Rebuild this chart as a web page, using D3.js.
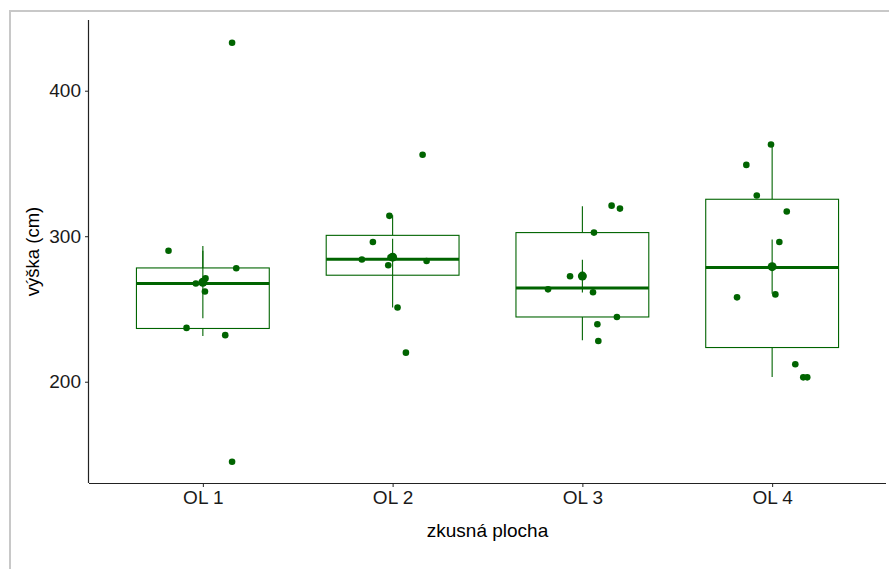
<!DOCTYPE html>
<html>
<head>
<meta charset="utf-8">
<script src="https://cdn.jsdelivr.net/npm/d3@7"></script>
<style>
  html, body { margin: 0; padding: 0; background: #fff; }
  svg { display: block; }
  text { font-family: "Liberation Sans", Arial, sans-serif; }
</style>
</head>
<body>
<svg id="chart" width="889" height="569"></svg>
<script>
// Plot categories
const categories = ["OL 1", "OL 2", "OL 3", "OL 4"];

// Individual tree heights (cm) per plot, with horizontal jitter (fraction of category step)
const heightsOL1 = [433, 290, 278, 267.5, 271, 262, 237, 232, 145];
const jitterOL1  = [0.154, -0.181, 0.176, -0.037, 0.014, 0.011, -0.086, 0.118, 0.154];
const heightsOL2 = [356, 314, 296, 284, 285.5, 280, 283, 251, 220];
const jitterOL2  = [0.158, -0.017, -0.104, -0.162, -0.011, -0.023, 0.179, 0.026, 0.070];
const heightsOL3 = [321, 319, 302.5, 272.5, 263.5, 261.5, 244.5, 239.5, 228];
const jitterOL3  = [0.154, 0.198, 0.061, -0.065, -0.181, 0.056, 0.182, 0.079, 0.084];
const heightsOL4 = [363, 349, 328, 317, 296, 258, 260, 212, 203, 203];
const jitterOL4  = [-0.006, -0.136, -0.081, 0.077, 0.038, -0.185, 0.017, 0.122, 0.164, 0.185];

// Box plot statistics per plot
const q1Vals      = [236.6, 273.2, 244.5, 223.5];
const medianVals  = [267.5, 284.2, 264.5, 278.5];
const q3Vals      = [278.2, 300.6, 302.5, 325.4];
const whiskerLow  = [231.5, 251, 228.5, 203.3];
const whiskerHigh = [290, 314.4, 320.6, 362.7];

// Mean ± standard error per plot
const meanVals = [268.4, 285.6, 272.6, 279.1];
const seVals   = [24.8, 12.6, 11.2, 18.7];

// Y axis ticks and visible value range
const yTicks = [200, 300, 400];
const yDomain = [130.4, 448.6];

const heights = [heightsOL1, heightsOL2, heightsOL3, heightsOL4];
const jitters = [jitterOL1, jitterOL2, jitterOL3, jitterOL4];

const color = "#006400";
const svg = d3.select("#chart");

// Outer frame
svg.append("path")
  .attr("d", "M10,569 L10,11 L889,11")
  .attr("fill", "none")
  .attr("stroke", "#c8c8c8")
  .attr("stroke-width", 2);

const panel = { left: 89, right: 886, top: 20, bottom: 483 };

const x = d3.scalePoint()
  .domain(categories)
  .range([panel.left, panel.right])
  .padding(0.6);
const step = x.step();

const y = d3.scaleLinear()
  .domain(yDomain)
  .range([panel.bottom, panel.top]);

const halfBox = step * 0.35;

const g = svg.append("g");

// Box plots
categories.forEach((c, i) => {
  const cx = x(c);
  const bg = g.append("g");
  // whiskers
  bg.append("line")
    .attr("x1", cx).attr("x2", cx)
    .attr("y1", y(q3Vals[i])).attr("y2", y(whiskerHigh[i]))
    .attr("stroke", color).attr("stroke-width", 1.1);
  bg.append("line")
    .attr("x1", cx).attr("x2", cx)
    .attr("y1", y(q1Vals[i])).attr("y2", y(whiskerLow[i]))
    .attr("stroke", color).attr("stroke-width", 1.1);
  // box
  bg.append("rect")
    .attr("x", cx - halfBox)
    .attr("y", y(q3Vals[i]))
    .attr("width", halfBox * 2)
    .attr("height", y(q1Vals[i]) - y(q3Vals[i]))
    .attr("fill", "white")
    .attr("stroke", color)
    .attr("stroke-width", 1.1);
  // median
  bg.append("line")
    .attr("x1", cx - halfBox).attr("x2", cx + halfBox)
    .attr("y1", y(medianVals[i])).attr("y2", y(medianVals[i]))
    .attr("stroke", color).attr("stroke-width", 3);
});

// Jittered observations
categories.forEach((c, i) => {
  g.append("g").selectAll("circle")
    .data(heights[i].map((v, k) => ({ v, j: jitters[i][k] })))
    .join("circle")
    .attr("cx", d => x(c) + d.j * step)
    .attr("cy", d => y(d.v))
    .attr("r", 3.3)
    .attr("fill", color);
});

// Mean ± SE point ranges
categories.forEach((c, i) => {
  const cx = x(c);
  g.append("line")
    .attr("x1", cx).attr("x2", cx)
    .attr("y1", y(meanVals[i] - seVals[i]))
    .attr("y2", y(meanVals[i] + seVals[i]))
    .attr("stroke", color).attr("stroke-width", 1.1);
  g.append("circle")
    .attr("cx", cx).attr("cy", y(meanVals[i]))
    .attr("r", 4.5)
    .attr("fill", color);
});

// Axes
const axisColor = "#222";
const xAxis = svg.append("g")
  .attr("transform", `translate(0,${panel.bottom})`)
  .call(d3.axisBottom(x).tickSizeOuter(0).tickSize(4).tickPadding(4));
const yAxis = svg.append("g")
  .attr("transform", `translate(${panel.left},0)`)
  .call(d3.axisLeft(y).tickValues(yTicks).tickSizeOuter(0).tickSize(4).tickPadding(4));

xAxis.select(".domain").attr("d", `M${panel.left},0.5H${panel.right}`);
yAxis.select(".domain").attr("d", `M-0.5,${panel.top}V${panel.bottom}`);

[xAxis, yAxis].forEach(a => {
  a.select(".domain").attr("stroke", axisColor).attr("stroke-width", 1.2);
  a.selectAll(".tick line").attr("stroke", axisColor);
  a.selectAll(".tick text")
    .attr("fill", "#1a1a1a")
    .style("font-size", "19px")
    .style("font-family", "'Liberation Sans', Arial, sans-serif");
});

// Axis titles
svg.append("text")
  .attr("x", (panel.left + panel.right) / 2)
  .attr("y", 537)
  .attr("text-anchor", "middle")
  .attr("fill", "#000")
  .style("font-size", "19px")
  .text("zkusná plocha");

svg.append("text")
  .attr("transform", `translate(39,${(panel.top + panel.bottom) / 2}) rotate(-90)`)
  .attr("text-anchor", "middle")
  .attr("fill", "#000")
  .style("font-size", "18.5px")
  .text("výška (cm)");
</script>
</body>
</html>
